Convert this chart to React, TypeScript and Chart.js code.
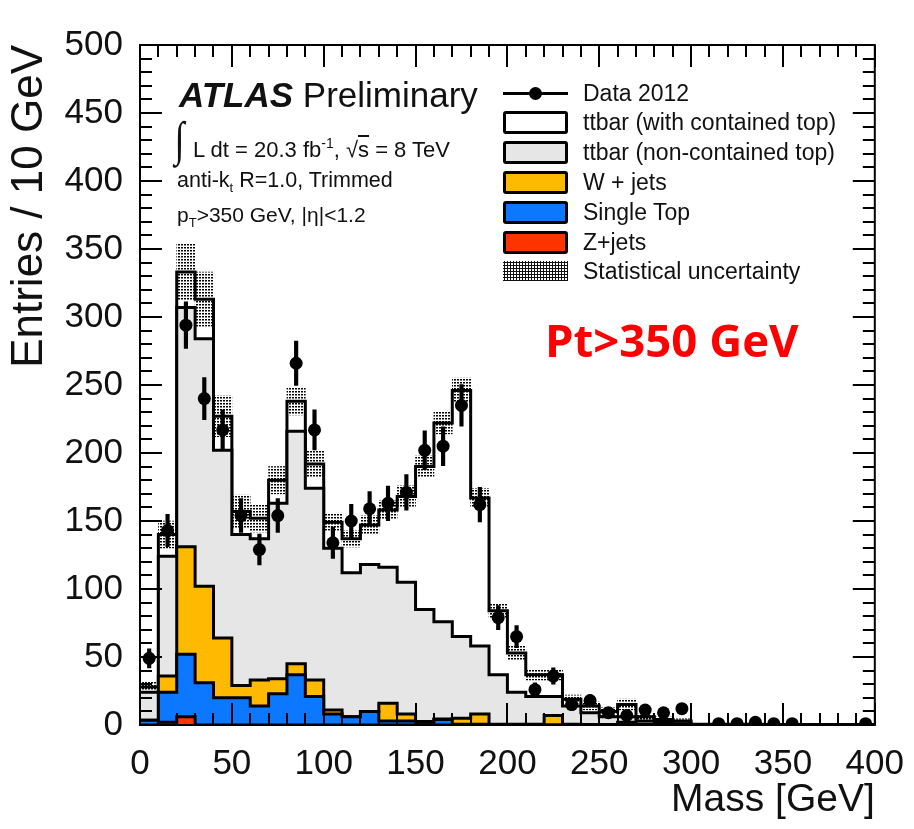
import React, { useEffect, useRef } from 'react';
import { Chart, registerables } from 'chart.js';

Chart.register(...registerables);

// Bin lower edges (GeV), 10 GeV bins
const binLow = [0, 10, 20, 30, 40, 50, 60, 70, 80, 90, 100, 110, 120, 130, 140, 150, 160, 170, 180, 190,
  200, 210, 220, 230, 240, 250, 260, 270, 280, 290, 300, 310, 320, 330, 340, 350, 360, 370, 380, 390];
const xMax = 400;

// Data 2012 counts per bin (0 = not drawn)
const dataCounts = [49, 143, 294, 240, 217, 154, 129, 154, 266, 217, 134, 150, 159, 163, 171, 202, 205, 235, 162, 79,
  65, 26, 36, 15, 18, 9, 7, 11, 9, 12, 0, 1, 1, 2, 1, 1, 0, 0, 0, 1];

// MC components (stack order bottom -> top)
const zJets = [0, 2, 6, 0, 0, 0, 0, 0, 0, 0, 0, 0, 0, 0, 0, 0, 0, 0, 0, 0,
  0, 0, 0, 0, 0, 0, 0, 0, 0, 0, 0, 0, 0, 0, 0, 0, 0, 0, 0, 0];
const singleTop = [3.5, 22, 46, 31, 20, 20, 14, 23, 37, 21, 8, 6, 10, 3, 3, 2, 4, 0.5, 0.5, 0.2,
  0.2, 0, 0, 0, 0, 0, 0, 0, 0, 0, 0, 0, 0, 0, 0, 0, 0, 0, 0, 0];
const wJets = [0, 12, 79, 71, 44, 9, 19, 11, 8, 12, 3, 0, 0, 13, 5, 0.5, 0.5, 4.5, 7.5, 0.3,
  0.3, 0.5, 7, 0.5, 0.3, 0.3, 2, 0.5, 0.2, 0.2, 0, 0, 0, 0, 0, 0, 0, 0, 0, 0];
const ttbarNonContained = [20.5, 88, 176, 182, 138, 111, 104, 129, 171, 141, 119, 106, 108, 100, 97, 82.5, 71.5, 60, 50, 36.5,
  23.5, 20.5, 14, 13.5, 8.7, 5.7, 4, 2.5, 1.8, 0.8, 0.3, 0.3, 0.3, 0.3, 0.2, 0.2, 0.2, 0.2, 0.2, 0.2];
const ttbarContained = [4, 16, 26, 29, 25, 17, 15, 17, 22, 18, 19, 25, 29, 42, 63, 105, 146, 181, 109, 47,
  29, 16, 16, 5, 5, 4, 9, 3, 2, 2, 0.2, 0.2, 0.2, 0.2, 0.2, 0.2, 0.2, 0.2, 0.2, 0.2];
// MC statistical uncertainty (absolute) per bin
const mcStatUnc = [4, 10, 21, 20, 15, 12, 10, 10, 10, 10, 6, 6, 7, 7, 8, 8, 8, 9, 7, 5,
  5, 4, 4, 3, 3, 3, 4, 2, 2, 1.5, 0.5, 0.5, 0.5, 0.5, 0.5, 0.5, 0.5, 0.5, 0.5, 0.5];

const yTicksMax = 500;

const COLORS = {
  contained: '#ffffff',
  nonContained: '#e6e6e6',
  wjets: '#ffb900',
  singleTop: '#0b78ff',
  zjets: '#ff3300',
};

const FONT = "'Liberation Sans', Arial, Helvetica, sans-serif";

const frameTicks = {
  id: 'frameTicks',
  afterDraw(chart: any) {
    const { ctx, chartArea: a, scales } = chart;
    const x = scales.x;
    const y = scales.y;
    ctx.save();
    ctx.strokeStyle = '#000';
    ctx.lineWidth = 2;
    ctx.beginPath();
    for (let v = 0; v <= xMax; v += 10) {
      const px = Math.round(x.getPixelForValue(v));
      const len = v % 50 === 0 ? 22 : 12;
      ctx.moveTo(px, a.bottom);
      ctx.lineTo(px, a.bottom - len);
      ctx.moveTo(px, a.top);
      ctx.lineTo(px, a.top + len);
    }
    for (let v = 0; v <= yTicksMax; v += 10) {
      const py = Math.round(y.getPixelForValue(v));
      const len = v % 50 === 0 ? 22 : 12;
      ctx.moveTo(a.left, py);
      ctx.lineTo(a.left + len, py);
      ctx.moveTo(a.right, py);
      ctx.lineTo(a.right - len, py);
    }
    ctx.stroke();
    ctx.lineWidth = 2;
    ctx.strokeRect(a.left, a.top, a.right - a.left, a.bottom - a.top);
    ctx.restore();
  },
};

export default function App() {
  const ref = useRef<HTMLCanvasElement>(null);

  useEffect(() => {
    const canvas = ref.current!;
    const ctx = canvas.getContext('2d')!;
    const tile = document.createElement('canvas');
    tile.width = 3;
    tile.height = 3;
    const tctx = tile.getContext('2d')!;
    tctx.fillStyle = '#000';
    tctx.fillRect(1, 1, 2, 1);
    tctx.fillStyle = 'rgba(0,0,0,0.5)';
    tctx.fillRect(1, 2, 2, 1);
    const hatch = ctx.createPattern(tile, 'repeat')!;

    const cum = (...arrs: number[][]) => binLow.map((_, i) => arrs.reduce((s, a) => s + a[i], 0));
    const topZ = cum(zJets);
    const topST = cum(zJets, singleTop);
    const topW = cum(zJets, singleTop, wJets);
    const topNC = cum(zJets, singleTop, wJets, ttbarNonContained);
    const topAll = cum(zJets, singleTop, wJets, ttbarNonContained, ttbarContained);

    const step = (vals: number[]) => [
      ...binLow.map((x, i) => ({ x, y: vals[i] })),
      { x: xMax, y: vals[vals.length - 1] },
    ];
    const histo = (label: string, vals: number[], color: string) => ({
      type: 'line' as const,
      label,
      data: step(vals),
      stepped: 'before' as const,
      borderColor: '#000',
      borderWidth: 3,
      borderJoinStyle: 'miter' as const,
      backgroundColor: color,
      fill: 'origin',
      pointRadius: 0,
      tension: 0,
    });

    const centers = binLow.map((x) => x + 5);
    const pts = centers
      .map((c, i) => ({ x: c, y: dataCounts[i] }))
      .filter((p) => p.y > 0);
    const errs = pts.map((p) => ({ x: p.x, y: [p.y - Math.sqrt(p.y), p.y + Math.sqrt(p.y)] }));
    const unc = centers.map((c, i) => ({ x: c, y: [Math.max(0, topAll[i] - mcStatUnc[i]), topAll[i] + mcStatUnc[i]] }));

    const chart = new Chart(ctx, {
      type: 'line',
      data: {
        datasets: [
          {
            type: 'line',
            label: 'Data 2012',
            data: pts,
            showLine: false,
            pointRadius: 6.5,
            pointBorderWidth: 0,
            pointBackgroundColor: '#000',
            borderColor: '#000',
          },
          {
            type: 'bar',
            label: 'Data errors',
            data: errs as any,
            backgroundColor: '#000',
            barThickness: 3.5,
            grouped: false,
          },
          {
            type: 'bar',
            label: 'Statistical uncertainty',
            data: unc as any,
            backgroundColor: hatch as any,
            barPercentage: 1,
            categoryPercentage: 1,
            grouped: false,
          },
          histo('Z+jets', topZ, COLORS.zjets),
          histo('Single Top', topST, COLORS.singleTop),
          histo('W + jets', topW, COLORS.wjets),
          histo('ttbar (non-contained top)', topNC, COLORS.nonContained),
          histo('ttbar (with contained top)', topAll, COLORS.contained),
        ] as any,
      },
      options: {
        animation: false,
        responsive: false,
        events: [],
        layout: { padding: { top: 45, right: 37, left: 0, bottom: 0 } },
        plugins: { legend: { display: false }, tooltip: { enabled: false } },
        scales: {
          x: {
            type: 'linear',
            min: 0,
            max: xMax,
            offset: false,
            grid: { display: false },
            border: { display: false },
            ticks: {
              stepSize: 50,
              autoSkip: false,
              maxRotation: 0,
              padding: 10,
              color: '#111',
              font: { family: FONT, size: 35 },
            },
            title: {
              display: true,
              text: 'Mass [GeV]',
              align: 'end',
              color: '#111',
              font: { family: FONT, size: 39 },
              padding: { top: 0, bottom: 5 },
            },
            afterFit: (s: any) => {
              s.height = 104;
            },
          },
          y: {
            type: 'linear',
            min: 0,
            max: yTicksMax,
            grid: { display: false },
            border: { display: false },
            ticks: {
              stepSize: 50,
              padding: 9,
              color: '#111',
              font: { family: FONT, size: 35 },
            },
            title: {
              display: true,
              text: 'Entries / 10 GeV',
              align: 'end',
              color: '#111',
              font: { family: FONT, size: 44 },
              padding: { top: 3, bottom: 0 },
            },
            afterFit: (s: any) => {
              s.width = 140;
            },
          },
        },
      } as any,
      plugins: [frameTicks],
    });
    return () => chart.destroy();
  }, []);

  const legendRows: { label: string; kind: string; color?: string }[] = [
    { label: 'Data 2012', kind: 'data' },
    { label: 'ttbar (with contained top)', kind: 'box', color: COLORS.contained },
    { label: 'ttbar (non-contained top)', kind: 'box', color: COLORS.nonContained },
    { label: 'W + jets', kind: 'box', color: COLORS.wjets },
    { label: 'Single Top', kind: 'box', color: COLORS.singleTop },
    { label: 'Z+jets', kind: 'box', color: COLORS.zjets },
    { label: 'Statistical uncertainty', kind: 'hatch' },
  ];
  const rowY = [93, 122, 152, 182, 212, 242, 271];

  const txt: React.CSSProperties = { position: 'absolute', fontFamily: FONT, color: '#111', whiteSpace: 'nowrap', lineHeight: 1 };

  return (
    <div style={{ position: 'fixed', left: 0, top: 0, width: 914, height: 829, background: '#fff', overflow: 'hidden' }}>
      <canvas ref={ref} width={914} height={829} style={{ display: 'block', width: 914, height: 829 }} />

      {/* ATLAS label */}
      <div style={{ ...txt, left: 179, top: 77, fontSize: 35 }}>
        <span style={{ fontWeight: 'bold', fontStyle: 'italic' }}>ATLAS</span> Preliminary
      </div>
      <div style={{ ...txt, left: 173, top: 115, fontSize: 48, fontFamily: "'Liberation Serif', serif", transform: 'scaleX(0.75)' }}>∫</div>
      <div style={{ ...txt, left: 193, top: 136, fontSize: 22 }}>
        L dt = 20.3 fb<sup style={{ fontSize: 14, verticalAlign: 9 }}>-1</sup>,{'  '}√<span style={{ textDecoration: 'overline' }}>s</span> = 8 TeV
      </div>
      <div style={{ ...txt, left: 177, top: 170, fontSize: 21.5 }}>
        anti-k<sub style={{ fontSize: 13, verticalAlign: -5 }}>t</sub> R=1.0, Trimmed
      </div>
      <div style={{ ...txt, left: 177, top: 204, fontSize: 21 }}>
        p<sub style={{ fontSize: 13, verticalAlign: -5 }}>T</sub>&gt;350 GeV, |η|&lt;1.2
      </div>

      {/* Legend */}
      {legendRows.map((r, i) => (
        <React.Fragment key={r.label}>
          {r.kind === 'data' && (
            <>
              <div style={{ position: 'absolute', left: 503, top: rowY[i] - 1.5, width: 65, height: 3, background: '#000' }} />
              <div style={{ position: 'absolute', left: 529, top: rowY[i] - 6.5, width: 13, height: 13, borderRadius: '50%', background: '#000' }} />
            </>
          )}
          {r.kind === 'box' && (
            <div style={{ position: 'absolute', left: 503, top: rowY[i] - 11.5, width: 65, height: 23, boxSizing: 'border-box', border: '3px solid #000', borderRadius: 3, background: r.color }} />
          )}
          {r.kind === 'hatch' && (
            <div style={{ position: 'absolute', left: 503, top: rowY[i] - 10, width: 65, height: 20, backgroundImage: 'radial-gradient(#111 1px, transparent 1.2px)', backgroundSize: '3px 3px' }} />
          )}
          <div style={{ ...txt, left: 583, top: rowY[i] - 11.5, fontSize: 23 }}>{r.label}</div>
        </React.Fragment>
      ))}

      {/* Red annotation */}
      <div style={{ ...txt, left: 545, top: 317, fontSize: 45.5, fontWeight: 'bold', color: '#ff0000', fontFamily: "'Open Sans', 'Noto Sans', sans-serif" }}>
        Pt&gt;350 GeV
      </div>
    </div>
  );
}
